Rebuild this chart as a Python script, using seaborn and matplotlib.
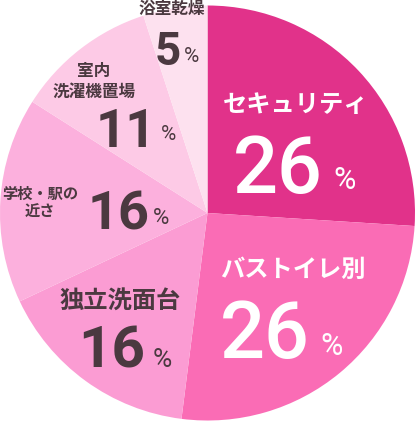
import matplotlib
matplotlib.use("Agg")
import matplotlib.pyplot as plt
import seaborn as sns

# shares, clockwise from 12 o'clock
categories = ["セキュリティ", "バストイレ別", "独立洗面台", "学校・駅の\n近さ", "室内\n洗濯機置場", "浴室乾燥"]
values = [26, 26, 16, 16, 11, 5]
colors = ["#e1328a", "#fa6cb5", "#fb9cd3", "#fcb0dd", "#fdcae6", "#fde1ef"]

W, H = 415, 422
CX, CY, R = 207.5, 213.0, 207.5

sns.set_style("white")
plt.rcParams["font.family"] = ["Noto Sans CJK JP", "DejaVu Sans"]

fig = plt.figure(figsize=(W / 100, H / 100), dpi=100)
ax = fig.add_axes([0, 0, 1, 1])
ax.pie(values, colors=colors, startangle=90, counterclock=False,
       wedgeprops=dict(linewidth=0), radius=1)
ax.set_xlim(-CX / R, (W - CX) / R)
ax.set_ylim(-(H - CY) / R, CY / R)
ax.set_aspect("equal")
ax.axis("off")


def px(x, y):
    """pixel position (from top-left) to data coords"""
    return (x - CX) / R, (CY - y) / R


DARK = "#4b3940"
NUM_FONT = ["Roboto", "DejaVu Sans"]

# (category pos, size, number left/baseline, size, weight, % gap/baseline, % size, color)
layout = [
    ((296, 105), 17.5, (233, 193), 57, "medium", (10, 189), 22, "white"),
    ((293, 270), 17.5, (220, 358), 57, "medium", (10, 355), 22, "white"),
    ((120, 301), 17.5, (78, 368), 42, "bold", (8, 367), 19, DARK),
    ((40, 203), 11, (88, 230), 39, "bold", (3, 224), 16, DARK),
    ((94, 81), 12, (96, 147), 38, "bold", (4, 140), 15, DARK),
    ((172, 9), 12, (155, 65), 33, "bold", (3, 62), 15, DARK),
]

fig.canvas.draw()
renderer = fig.canvas.get_renderer()
for cat, val, (tpos, tsize, npos, nsize, nweight, pgap, psize, col) in zip(categories, values, layout):
    ax.text(*px(*tpos), cat, ha="center", va="center", fontsize=tsize,
            color=col, fontweight="bold", linespacing=1.2)
    num = ax.text(*px(*npos), str(val), ha="left", va="baseline", fontsize=nsize,
                  color=col, family=NUM_FONT, fontweight=nweight)
    right = num.get_window_extent(renderer).x1
    ax.text(*px(right + pgap[0], pgap[1]), "%", ha="left", va="baseline",
            fontsize=psize, color=col, family=NUM_FONT)

fig.savefig("out.png", dpi=100, facecolor="white")
